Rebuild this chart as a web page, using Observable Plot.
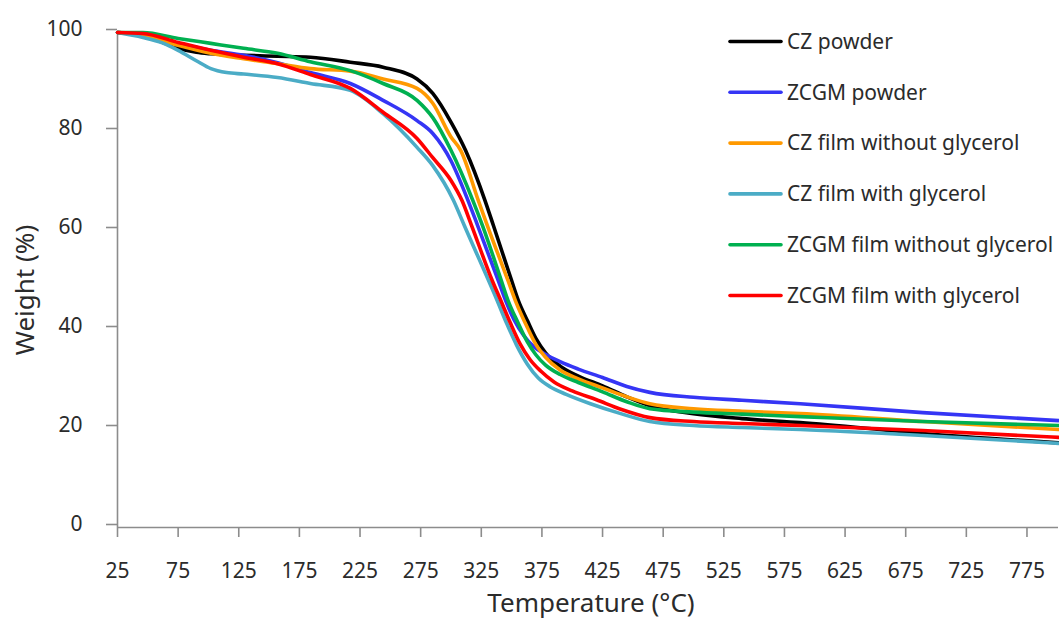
<!DOCTYPE html>
<html>
<head>
<meta charset="utf-8">
<script src="https://cdn.jsdelivr.net/npm/d3@7"></script>
<script src="https://cdn.jsdelivr.net/npm/@observablehq/plot@0.6"></script>
<style>
  html, body { margin: 0; padding: 0; background: #ffffff; overflow: hidden; }
  #wrap { position: relative; width: 1059px; height: 619px; overflow: hidden; font-family: "Noto Sans", sans-serif; }
  #wrap > svg { display: block; max-width: none !important; }
  #overlay { position: absolute; left: 0; top: 0; pointer-events: none; }
</style>
</head>
<body>
<div id="wrap"></div>
<script>
// ---- data (temperature °C, weight %) ----
const seriesNames = ["CZ powder", "ZCGM powder", "CZ film without glycerol", "CZ film with glycerol", "ZCGM film without glycerol", "ZCGM film with glycerol"];
const seriesColors = ["#000000", "#3535f5", "#ff9900", "#4bacc6", "#00b050", "#ff0000"];

const czPowder = [[25,100],[46,99.4],[62,98.0],[75,96.8],[90,96.0],[102,95.7],[129,95.4],[157,95.2],[184,95.0],[217,94.0],[244,93.0],[272,90.6],[285,87.7],[300,81.9],[312,76.2],[328,66.1],[335,61.0],[350,49.9],[355.5,45.9],[363,41.8],[370,38.2],[378,35.3],[390,32.6],[405,30.6],[425,28.6],[445,26.4],[464,24.6],[500,23.0],[540,22.0],[588,21.2],[689,19.0],[801,17.1]];
const zcgmPowder = [[25,100],[46,99.5],[75,97.8],[102,96.4],[129,95.4],[157,93.9],[184,91.9],[217,89.7],[244,86.3],[272,82.2],[285,79.6],[300,74.1],[314,66.1],[322,61.0],[339,49.9],[345,45.9],[352,42.0],[360,38.8],[368,36.6],[378,35.0],[390,33.5],[405,32.0],[425,30.3],[445,28.5],[464,27.3],[500,26.3],[540,25.7],[588,25.0],[689,23.2],[801,21.6]];
const czFilmNoGly = [[25,100],[46,99.5],[75,97.4],[102,95.8],[129,94.7],[157,93.7],[184,92.7],[217,92.2],[244,90.6],[272,88.7],[285,85.7],[300,78.9],[308,76.2],[322.5,66.1],[330,61.0],[347,49.9],[353,45.9],[363,40.4],[370,37.0],[378,34.4],[390,31.8],[405,30.0],[425,28.2],[445,26.4],[464,25.0],[500,24.0],[540,23.5],[588,23.0],[689,21.4],[801,19.8]];
const czFilmGly = [[25,100],[46,99.0],[62,97.9],[75,96.4],[90,94.3],[102,92.7],[115,91.9],[129,91.6],[157,90.9],[184,89.7],[217,88.3],[244,83.6],[272,76.8],[285,73.1],[302,66.1],[311,61.0],[338,45.9],[346,41.2],[354,36.9],[363,33.0],[372,30.2],[382,28.4],[395,26.9],[415,25.0],[440,23.0],[464,21.4],[500,20.6],[540,20.2],[588,19.8],[689,18.6],[801,17.0]];
const zcgmFilmNoGly = [[25,100],[46,100],[75,98.8],[102,97.8],[129,96.8],[157,95.8],[184,94.1],[217,92.3],[244,89.7],[272,86.3],[285,82.8],[300,76.2],[318,66.1],[326,61.0],[341.5,49.9],[347,45.9],[355,41.5],[363,37.5],[370,34.9],[378,32.8],[390,30.9],[405,29.3],[425,27.4],[445,25.4],[464,24.0],[500,23.3],[540,22.9],[588,22.4],[689,21.4],[801,20.6]];
const zcgmFilmGly = [[25,100],[46,99.8],[75,98.0],[102,96.4],[129,95.0],[157,93.7],[184,91.5],[217,88.7],[244,83.9],[272,78.6],[285,74.7],[300,70.1],[309,66.1],[317,61.0],[334,49.9],[341,45.9],[349,41.3],[357,37.1],[365,34.0],[374,31.6],[385,29.4],[400,27.6],[420,25.8],[440,23.9],[464,22.2],[500,21.4],[540,21.0],[588,20.6],[689,19.6],[801,18.2]];

const xTicks = [25, 75, 125, 175, 225, 275, 325, 375, 425, 475, 525, 575, 625, 675, 725, 775];
const yTicks = [0, 20, 40, 60, 80, 100];
const xTitle = "Temperature (°C)";
const yTitle = "Weight (%)";

// ---- build table ----
const allSeries = [czPowder, zcgmPowder, czFilmNoGly, czFilmGly, zcgmFilmNoGly, zcgmFilmGly];
const rows = allSeries.flatMap((s, i) => s.map(([t, w]) => ({name: seriesNames[i], t, w})));

const axisGray = "#8c8c8c";
const textColor = "#2b2b2b";

const chart = Plot.plot({
  width: 1059,
  height: 619,
  marginLeft: 117,
  marginRight: 1,
  marginTop: 32,
  marginBottom: 92,
  style: {fontFamily: "'Noto Sans', sans-serif", background: "white", color: textColor, overflow: "visible"},
  x: {domain: [25, 801]},
  y: {domain: [0, 100]},
  color: {domain: seriesNames, range: seriesColors},
  marks: [
    Plot.axisX({ticks: xTicks, tickSize: 10, tickPadding: 26, stroke: axisGray, strokeWidth: 1.6, fill: textColor, fontSize: 21, label: null, tickFormat: d => String(d)}),
    Plot.axisY({ticks: yTicks, tickSize: 11, tickPadding: 24, stroke: axisGray, strokeWidth: 1.6, fill: textColor, fontSize: 21, label: null, dy: -3}),
    Plot.ruleX([25], {stroke: axisGray, strokeWidth: 1.6}),
    Plot.ruleY([0], {stroke: axisGray, strokeWidth: 1.6}),
    Plot.line(rows, {x: "t", y: "w", z: "name", stroke: "name", curve: "monotone-x", strokeWidth: 3.6, strokeLinejoin: "round", strokeLinecap: "round"})
  ]
});

const wrap = document.getElementById("wrap");
wrap.appendChild(chart);

// ---- overlay: axis titles and legend ----
const svg = d3.select(wrap).append("svg")
  .attr("id", "overlay")
  .attr("width", 1059).attr("height", 619)
  .style("font-family", "'Noto Sans', sans-serif");

svg.append("text")
  .attr("x", 591).attr("y", 612)
  .attr("text-anchor", "middle")
  .attr("font-size", 26)
  .attr("fill", textColor)
  .text(xTitle);

svg.append("text")
  .attr("transform", "translate(34,290) rotate(-90)")
  .attr("text-anchor", "middle")
  .attr("font-size", 26)
  .attr("fill", textColor)
  .text(yTitle);

const legend = svg.append("g").attr("transform", "translate(729,41.5)");
seriesNames.forEach((name, i) => {
  const g = legend.append("g").attr("transform", `translate(0,${i * 50.8})`);
  g.append("line").attr("x1", 1).attr("x2", 52).attr("y1", 0).attr("y2", 0)
    .attr("stroke", seriesColors[i]).attr("stroke-width", 3.6).attr("stroke-linecap", "round");
  g.append("text").attr("x", 58).attr("y", 0).attr("dy", "0.35em")
    .attr("font-size", 21).attr("fill", textColor).text(name);
});
</script>
</body>
</html>
